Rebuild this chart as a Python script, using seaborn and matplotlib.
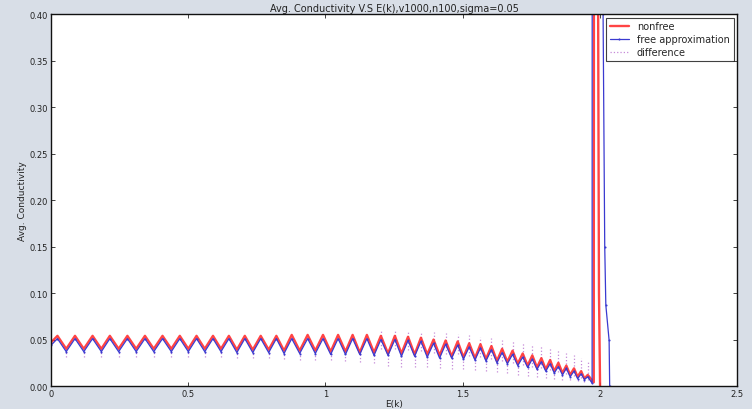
import matplotlib
matplotlib.use("Agg")
import matplotlib.pyplot as plt
import seaborn as sns
import pandas as pd

# ---- data -------------------------------------------------------------
# energy positions of the oscillation maxima and minima
peak_e = [0.023, 0.087, 0.151, 0.214, 0.278, 0.342, 0.406, 0.469, 0.530, 0.590,
          0.648, 0.706, 0.764, 0.821, 0.877, 0.935, 0.991, 1.046, 1.099, 1.151,
          1.202, 1.253, 1.301, 1.348, 1.394, 1.438, 1.482, 1.524, 1.565, 1.605,
          1.644, 1.682, 1.719, 1.754, 1.787, 1.819, 1.849, 1.878, 1.906, 1.932,
          1.956]
trough_e = [0.055, 0.119, 0.183, 0.246, 0.310, 0.374, 0.438, 0.500, 0.560, 0.619,
            0.677, 0.735, 0.793, 0.849, 0.906, 0.963, 1.019, 1.073, 1.125, 1.177,
            1.228, 1.277, 1.325, 1.371, 1.416, 1.460, 1.503, 1.545, 1.585, 1.625,
            1.663, 1.701, 1.737, 1.771, 1.803, 1.834, 1.864, 1.892, 1.919, 1.944]

nonfree_peak = [0.054, 0.054, 0.054, 0.054, 0.054, 0.054, 0.054, 0.054, 0.054, 0.054,
                0.054, 0.054, 0.054, 0.054, 0.055, 0.055, 0.055, 0.055, 0.055, 0.055,
                0.054, 0.054, 0.053, 0.052, 0.050, 0.049, 0.048, 0.046, 0.045, 0.043,
                0.040, 0.038, 0.035, 0.033, 0.030, 0.028, 0.025, 0.022, 0.019, 0.016,
                0.012]
nonfree_trough = [0.040, 0.040, 0.040, 0.040, 0.040, 0.040, 0.040, 0.040, 0.040, 0.040,
                  0.039, 0.039, 0.039, 0.038, 0.038, 0.038, 0.037, 0.037, 0.036, 0.036,
                  0.035, 0.035, 0.034, 0.034, 0.033, 0.032, 0.031, 0.030, 0.029, 0.027,
                  0.026, 0.024, 0.022, 0.020, 0.018, 0.016, 0.014, 0.012, 0.010, 0.008]
free_peak = [0.051, 0.051, 0.051, 0.051, 0.051, 0.051, 0.051, 0.051, 0.051, 0.051,
             0.051, 0.051, 0.051, 0.051, 0.051, 0.051, 0.051, 0.051, 0.051, 0.051,
             0.050, 0.050, 0.049, 0.048, 0.046, 0.045, 0.044, 0.042, 0.041, 0.039,
             0.036, 0.034, 0.031, 0.029, 0.026, 0.024, 0.021, 0.019, 0.016, 0.013,
             0.010]
free_trough = [0.037, 0.037, 0.037, 0.037, 0.037, 0.037, 0.037, 0.037, 0.037, 0.037,
               0.036, 0.036, 0.036, 0.035, 0.035, 0.035, 0.034, 0.034, 0.034, 0.033,
               0.033, 0.032, 0.032, 0.031, 0.030, 0.030, 0.029, 0.028, 0.027, 0.025,
               0.024, 0.022, 0.020, 0.018, 0.016, 0.014, 0.012, 0.010, 0.008, 0.007]

# band edge and the divergence just around E = 2
start_e, start_nonfree, start_free = 0.0, 0.047, 0.044
nonfree_edge_e = [1.978, 1.982, 1.992, 1.994, 1.997, 2.001]
nonfree_edge_v = [0.004, 3.000, 1.500, 0.400, 0.100, 0.000]
free_edge_e = [1.972, 1.974, 2.010, 2.012, 2.018, 2.022, 2.034, 2.036]
free_edge_v = [0.003, 3.000, 1.000, 0.400, 0.150, 0.087, 0.049, 0.000]

# spread of the difference samples
diff_low_e = trough_e
diff_low_bottom = [0.031, 0.031, 0.031, 0.031, 0.031, 0.031, 0.031, 0.031, 0.031, 0.031,
                   0.030, 0.030, 0.030, 0.029, 0.028, 0.028, 0.028, 0.027, 0.026, 0.025,
                   0.022, 0.021, 0.020, 0.020, 0.019, 0.018, 0.018, 0.017, 0.016, 0.015,
                   0.014, 0.012, 0.011, 0.010, 0.009, 0.008, 0.007, 0.006, 0.005, 0.004]
diff_high_e = [1.202, 1.253, 1.301, 1.348, 1.394, 1.438, 1.482, 1.524, 1.565, 1.605,
               1.644, 1.682, 1.719, 1.754, 1.787, 1.819, 1.849, 1.878, 1.906, 1.932,
               1.956]
diff_high_top = [0.059, 0.060, 0.059, 0.058, 0.058, 0.057, 0.056, 0.055, 0.053, 0.052,
                 0.050, 0.048, 0.046, 0.045, 0.043, 0.041, 0.039, 0.036, 0.033, 0.030,
                 0.026]
diff_high_bottom = [0.040, 0.040, 0.039, 0.038, 0.036, 0.035, 0.034, 0.032, 0.031, 0.029,
                    0.027, 0.025, 0.023, 0.021, 0.019, 0.017, 0.015, 0.013, 0.011, 0.009,
                    0.007]


def weave(e0, v0, pe, pv, te, tv, ee, ev):
    xs, ys = [e0], [v0]
    for i in range(len(pe)):
        xs.append(pe[i]); ys.append(pv[i])
        if i < len(te):
            xs.append(te[i]); ys.append(tv[i])
    return pd.DataFrame({"E": xs + ee, "sigma": ys + ev})


nonfree = weave(start_e, start_nonfree, peak_e, nonfree_peak, trough_e, nonfree_trough,
                nonfree_edge_e, nonfree_edge_v)
free = weave(start_e, start_free, peak_e, free_peak, trough_e, free_trough,
             free_edge_e, free_edge_v)

# ---- figure -----------------------------------------------------------
sns.set_theme(style="white")
plt.rcParams["font.family"] = ["DejaVu Sans"]
fig = plt.figure(figsize=(7.52, 4.10), dpi=100, facecolor="#d8dee7")
ax = fig.add_axes([0.068, 0.056, 0.912, 0.907])
ax.set_facecolor("white")

ax.vlines(diff_low_e, diff_low_bottom, [v + 0.002 for v in nonfree_trough],
          colors="#c58ad8", linestyles=":", linewidth=0.9, label="difference")
ax.vlines(diff_high_e, diff_high_bottom, diff_high_top,
          colors="#c58ad8", linestyles=":", linewidth=0.9)

sns.lineplot(data=nonfree, x="E", y="sigma", ax=ax, color="#ff3030", linewidth=1.7,
             alpha=0.9, sort=False, estimator=None, label="nonfree")
sns.lineplot(data=free, x="E", y="sigma", ax=ax, color="#3a3ad0", linewidth=0.9,
             marker=".", markersize=3, markeredgewidth=0, sort=False, estimator=None,
             label="free approximation")

ax.set_xlim(0, 2.5)
ax.set_ylim(0, 0.40)
ax.set_xticks([0, 0.5, 1, 1.5, 2, 2.5])
ax.set_xticklabels(["0", "0.5", "1", "1.5", "2", "2.5"])
ax.set_yticks([0.0, 0.05, 0.10, 0.15, 0.20, 0.25, 0.30, 0.35, 0.40])
ax.set_yticklabels(["0.00", "0.05", "0.10", "0.15", "0.20", "0.25", "0.30", "0.35", "0.40"])
ax.tick_params(direction="in", length=3, width=0.6, labelsize=6, colors="#222222",
               top=True, right=True, left=True, bottom=True, pad=2)
for s in ax.spines.values():
    s.set_color("#111111")
    s.set_linewidth(1.0)

ax.set_title("Avg. Conductivity V.S E(k),v1000,n100,sigma=0.05", fontsize=7, pad=2,
             color="#222222")
ax.set_xlabel("E(k)", fontsize=6.5, labelpad=1, color="#222222")
ax.set_ylabel("Avg. Conductivity", fontsize=6.5, labelpad=2, color="#222222")

h, l = ax.get_legend_handles_labels()
order = [l.index("nonfree"), l.index("free approximation"), l.index("difference")]
leg = ax.legend([h[i] for i in order], [l[i] for i in order], loc="upper right",
                fontsize=7, frameon=True, fancybox=False, borderaxespad=0.35,
                handlelength=2.0, labelspacing=0.3, borderpad=0.4)
leg.get_frame().set_edgecolor("#111111")
leg.get_frame().set_linewidth(0.8)

fig.savefig("out.png", dpi=100, facecolor=fig.get_facecolor())
